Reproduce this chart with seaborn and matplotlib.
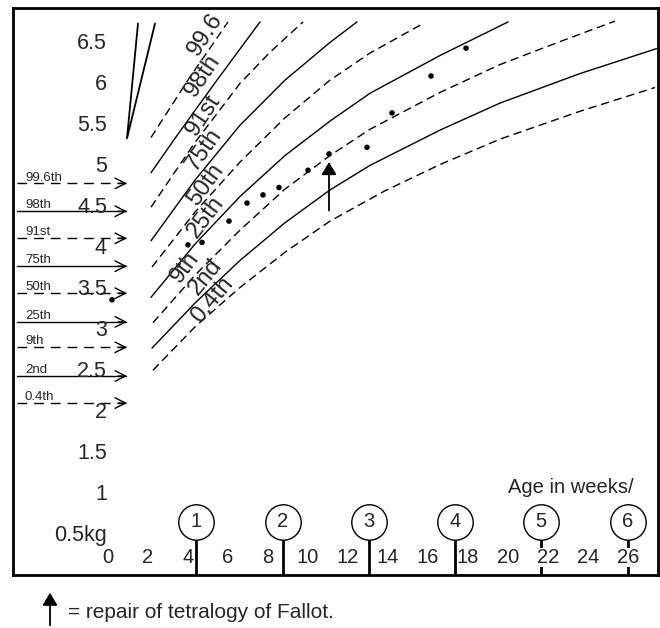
import matplotlib
matplotlib.use("Agg")
import matplotlib.pyplot as plt
import seaborn as sns
import pandas as pd

sns.set_style("white")
plt.rcParams['font.family'] = ['Liberation Sans', 'DejaVu Sans']

# centile curves (weeks, kg)
wk_996 = [2.15, 3.1, 4.1, 5.1, 6.0]
kg_996 = [5.35, 5.71, 6.09, 6.44, 6.76]
wk_98 = [2.15, 3.35, 4.35, 5.45, 6.6, 7.6]
kg_98 = [4.92, 5.34, 5.68, 6.05, 6.43, 6.76]
wk_91 = [2.15, 4.35, 6.6, 8.1, 9.75]
kg_91 = [4.50, 5.29, 6.01, 6.39, 6.76]
wk_75 = [2.15, 4.35, 6.6, 8.85, 11.1, 12.45]
kg_75 = [4.09, 4.83, 5.50, 6.05, 6.51, 6.76]
wk_50 = [2.2, 4.35, 6.6, 8.85, 11.1, 13.1, 15.75]
kg_50 = [3.77, 4.44, 5.05, 5.59, 6.05, 6.38, 6.74]
wk_25 = [2.15, 4.35, 6.6, 8.85, 11.1, 13.1, 16.6, 20.0]
kg_25 = [3.40, 4.05, 4.63, 5.13, 5.55, 5.89, 6.35, 6.76]
wk_9 = [2.25, 4.35, 6.6, 8.85, 11.1, 13.1, 16.6, 19.6, 22.6, 25.35]
kg_9 = [3.09, 3.67, 4.22, 4.72, 5.13, 5.45, 5.90, 6.24, 6.52, 6.77]
wk_2 = [2.2, 4.35, 6.6, 8.85, 11.1, 13.1, 16.6, 19.6, 23.6, 27.5]
kg_2 = [2.78, 3.33, 3.85, 4.31, 4.71, 5.01, 5.44, 5.77, 6.13, 6.44]
wk_04 = [2.25, 4.35, 6.6, 8.85, 11.1, 13.85, 16.6, 19.6, 23.6, 27.35]
kg_04 = [2.51, 3.04, 3.52, 3.95, 4.33, 4.70, 5.02, 5.33, 5.67, 5.96]

curve_names = ['99.6', '98th', '91st', '75th', '50th', '25th', '9th', '2nd', '0.4th']
curve_dashed = [True, False, True, False, True, False, True, False, True]

# patient weights
pt_wk = [0.2, 4.0, 4.7, 6.05, 6.95, 7.75, 8.55, 10.0, 11.05, 12.95, 14.2, 16.15, 17.9]
pt_kg = [3.37, 4.04, 4.07, 4.33, 4.55, 4.65, 4.74, 4.95, 5.15, 5.23, 5.65, 6.10, 6.44]
repair_wk = 11.05
repair_kg = (4.46, 5.05)

# birth-weight centile arrows on the left
leg_names = ['99.6th', '98th', '91st', '75th', '50th', '25th', '9th', '2nd', '0.4th']
leg_kg = [4.79, 4.45, 4.12, 3.78, 3.45, 3.10, 2.79, 2.44, 2.11]

# axis text
y_vals = [6.5, 6, 5.5, 5, 4.5, 4, 3.5, 3, 2.5, 2, 1.5, 1, 0.5]
y_labels = ['6.5', '6', '5.5', '5', '4.5', '4', '3.5', '3', '2.5', '2', '1.5', '1', '0.5kg']
x_vals = list(range(0, 27, 2))
month_no = [1, 2, 3, 4, 5, 6]
month_wk = [4.4, 8.75, 13.05, 17.35, 21.65, 26.0]

# the small V mark at top left
vee_wk = [1.5, 0.95, 2.35]
vee_kg = [6.74, 5.34, 6.74]

fig = plt.figure(figsize=(6.6, 6.28), dpi=100)
ax = fig.add_axes([13 / 660, 53 / 628, 645 / 660, 567 / 628])
ax.set_xlim(-4.75, 27.5)
ax.set_ylim(0.012, 6.93)
ax.set_xticks([])
ax.set_yticks([])
for s in ax.spines.values():
    s.set_linewidth(2)
    s.set_color('black')

curves = [(wk_996, kg_996), (wk_98, kg_98), (wk_91, kg_91), (wk_75, kg_75), (wk_50, kg_50),
          (wk_25, kg_25), (wk_9, kg_9), (wk_2, kg_2), (wk_04, kg_04)]
rows = []
for name, (wk, kg) in zip(curve_names, curves):
    for w, k in zip(wk, kg):
        rows.append({'centile': name, 'week': w, 'kg': k})
df = pd.DataFrame(rows)

for name, dashed in zip(curve_names, curve_dashed):
    sub = df[df['centile'] == name]
    sns.lineplot(data=sub, x='week', y='kg', ax=ax, color='black', lw=1.0,
                 estimator=None, sort=False, legend=False)
    if dashed:
        ax.lines[-1].set_dashes((6, 3.5))

# curve labels
lab_pos = [(4.85, 6.61), (4.75, 6.10), (4.75, 5.62), (4.8, 5.20), (4.9, 4.77),
           (4.9, 4.38), (3.85, 3.77), (4.9, 3.65), (5.2, 3.37)]
lab_rot = [57, 56, 56, 55, 54, 53, 53, 51, 50]
for name, (x, y), r in zip(curve_names, lab_pos, lab_rot):
    ax.text(x, y, name, fontsize=17, rotation=r, ha='center', va='center',
            rotation_mode='anchor')

ax.plot(vee_wk, vee_kg, color='black', lw=1.3)

sns.scatterplot(x=pt_wk, y=pt_kg, ax=ax, color='black', s=16, edgecolor='none',
                legend=False, zorder=5)

ax.annotate('', xy=(repair_wk, repair_kg[1]), xytext=(repair_wk, repair_kg[0]),
            arrowprops=dict(arrowstyle='-|>,head_length=0.75,head_width=0.45',
                            mutation_scale=10, color='black', lw=1.3,
                            shrinkA=0, shrinkB=0))

# left centile arrows
for name, y, dashed in zip(leg_names, leg_kg, curve_dashed):
    if dashed:
        ax.plot([-4.55, 0.9], [y, y], color='black', lw=1.0, dashes=(7, 5))
    else:
        ax.plot([-4.55, 0.9], [y, y], color='black', lw=1.0)
    ax.annotate('', xy=(0.95, y), xytext=(0.5, y),
                arrowprops=dict(arrowstyle='->,head_length=0.75,head_width=0.38',
                                mutation_scale=10, color='black', lw=1.0,
                                shrinkA=0, shrinkB=0))
    ax.text(-4.15, y + 0.035, name, fontsize=9.5, ha='left', va='baseline')

# y axis labels
for v, t in zip(y_vals, y_labels):
    ax.text(-0.05, v, t, fontsize=15.5, ha='right', va='center', zorder=3)

# month markers
ax.vlines(month_wk, 0.012, 0.66, color='black', lw=2, zorder=2)
ax.plot(month_wk, [0.66] * len(month_wk), 'o', ms=25.5, mfc='white', mec='black',
        mew=1.0, zorder=4)
for m, w in zip(month_no, month_wk):
    ax.text(w, 0.66, str(m), fontsize=14.5, ha='center', va='center', zorder=5)

# x axis labels
for v in x_vals:
    ax.text(v, 0.23, str(v), fontsize=14.5, ha='center', va='center', zorder=3,
            bbox=dict(facecolor='white', edgecolor='none', pad=0))
ax.text(20.0, 1.085, 'Age in weeks/', fontsize=14.5, ha='left', va='center')

# key for the arrow
fig.patches.append(matplotlib.patches.FancyArrowPatch(
    (50, 0), (50, 38), transform=None, arrowstyle='-|>,head_length=0.75,head_width=0.45',
    mutation_scale=10, color='black', lw=1.3))
fig.text(68 / 660, 15 / 628, '= repair of tetralogy of Fallot.', fontsize=15, va='center')

fig.savefig('out.png', dpi=100)
